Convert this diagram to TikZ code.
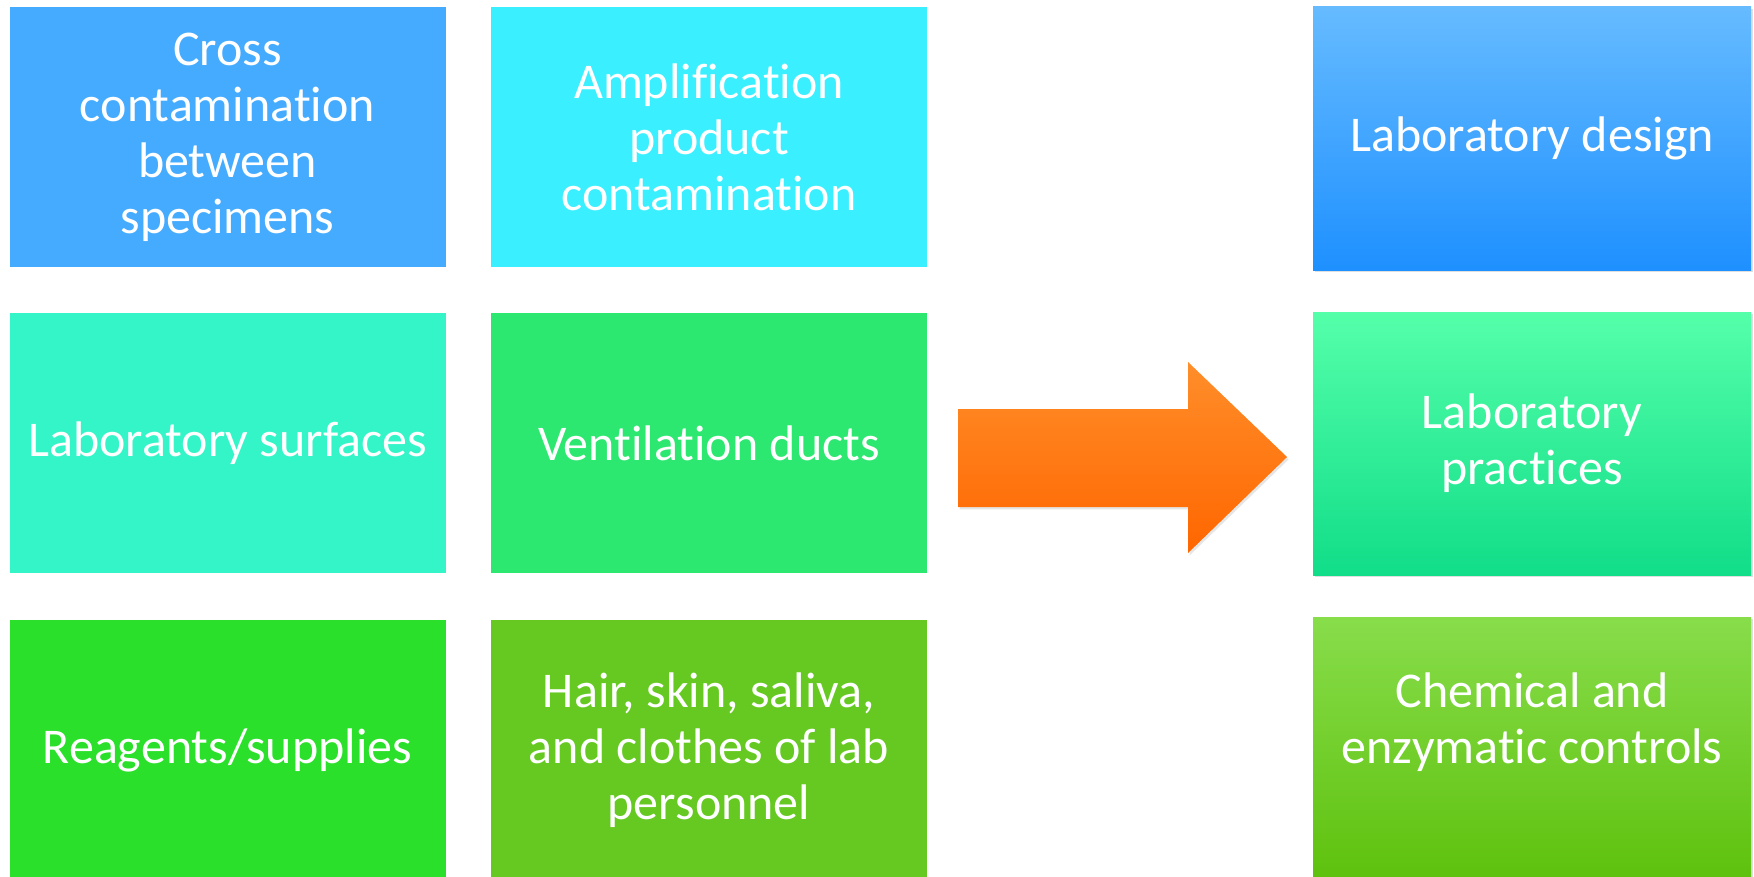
\documentclass[tikz,border=0pt]{standalone}
\usepackage{fontspec}
\setmainfont{Carlito}[Ligatures={NoCommon}]
\usetikzlibrary{shadows}
\definecolor{cA}{HTML}{45ABFF}
\definecolor{cB}{HTML}{3AEFFF}
\definecolor{cC}{HTML}{33F5C8}
\definecolor{cD}{HTML}{2CE870}
\definecolor{cE}{HTML}{2AE02A}
\definecolor{cF}{HTML}{66C922}
\definecolor{rAt}{HTML}{66BBFF}
\definecolor{rAb}{HTML}{1E90FF}
\definecolor{rBt}{HTML}{55FFAA}
\definecolor{rBb}{HTML}{11DD88}
\definecolor{rCt}{HTML}{88DD4B}
\definecolor{rCb}{HTML}{55BB00}
\definecolor{arT}{HTML}{FF8E2A}
\definecolor{arB}{HTML}{FF6600}
\begin{document}
\begin{tikzpicture}[x=0.5pt,y=-0.5pt,
  lbox/.style={rectangle, draw=none, minimum width=218pt, minimum height=130pt,
    inner sep=0pt, text=white, align=center,
    font=\fontsize{25}{28}\selectfont},
  rbox/.style={lbox, minimum width=219pt, minimum height=131.5pt,
    drop shadow={opacity=0.25, shadow xshift=0.8pt, shadow yshift=-1.2pt}},
  lbl/.style={text=white, align=center, font=\fontsize{25}{28}\selectfont}]
\useasboundingbox (0,0) rectangle (1754,877);
\fill[white] (0,0) rectangle (1754,877);
% left grid
\node[lbox, fill=cA] (cross) at (227.5,137) {Cross\\contamination\\between\\specimens};
\node[lbox, fill=cB] (ampl) at (709,137) {Amplification\\product\\contamination};
\node[lbox, fill=cC] (surf) at (227.5,443) {Laboratory surfaces};
\node[lbox, fill=cD] (vent) at (709,443) {Ventilation ducts};
\node[lbox, fill=cE] (reag) at (227.5,750) {Reagents/supplies};
\node[lbox, fill=cF] (hair) at (709,750) {Hair, skin, saliva,\\and clothes of lab\\personnel};
% arrow
\shade[top color=arT, bottom color=arB,
  drop shadow={opacity=0.2, shadow xshift=0.8pt, shadow yshift=-1.2pt}]
  (958,409) -- (1188,409) -- (1188,362) -- (1287,457) -- (1188,553)
  -- (1188,507) -- (958,507) -- cycle;
% right column
\node[rbox, top color=rAt, bottom color=rAb] (design) at (1532,138.5) {Laboratory design};
\node[rbox, top color=rBt, bottom color=rBb] (pract) at (1532,443.5) {Laboratory\\practices};
\node[rbox, top color=rCt, bottom color=rCb, minimum height=160pt] (chem) at (1532,777) {};
\node[lbl] (chemt) at (1532,722) {Chemical and\\enzymatic controls};
\end{tikzpicture}
\end{document}
